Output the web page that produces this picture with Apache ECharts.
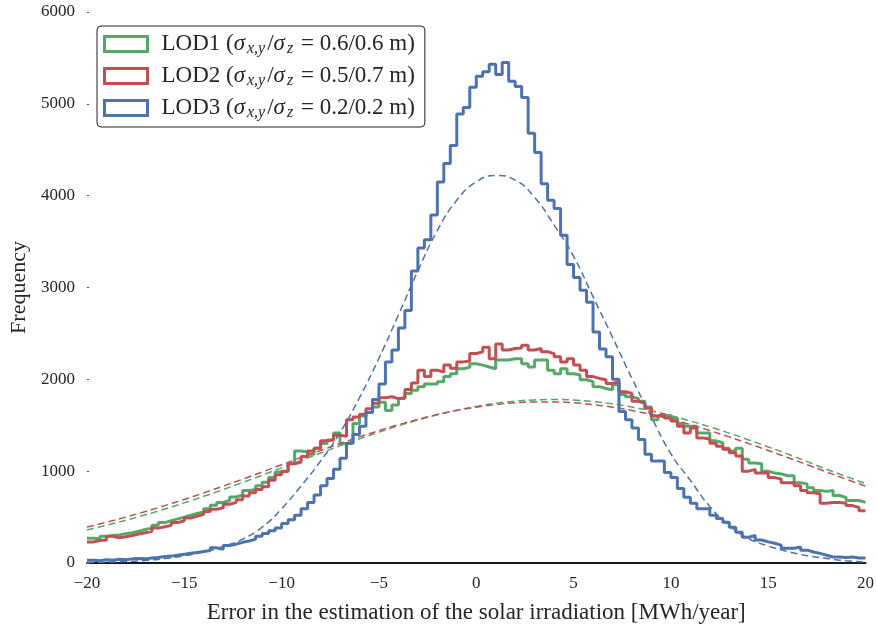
<!DOCTYPE html>
<html>
<head>
<meta charset="utf-8">
<script src="https://cdn.jsdelivr.net/npm/echarts@6/dist/echarts.min.js"></script>
<style>
  html, body { margin: 0; padding: 0; background: #fff; }
  #chart { width: 877px; height: 629px; }
</style>
</head>
<body>
<div id="chart"></div>
<script>
// histogram bins: 120 bins of 1/3 MWh/year from -20 to 20
var binStart = -20;
var binWidth = 1 / 3;

var lod1Counts = [
  270, 265, 290, 300, 305, 320, 330, 345, 365, 380, 410, 440, 460, 480, 500,
  520, 540, 555, 590, 630, 660, 680, 720, 740, 790, 800, 840, 880, 930, 990,
  1000, 1080, 1220, 1210, 1185, 1250, 1300, 1340, 1415, 1300, 1310, 1520, 1600, 1640, 1700,
  1750, 1660, 1720, 1790, 1845, 1880, 1920, 1950, 1950, 1975, 2030, 2060, 2115, 2130, 2170,
  2155, 2135, 2115, 2210, 2210, 2225, 2225, 2170, 2135, 2210, 2210, 2100, 2060, 2115, 2060,
  2050, 1995, 1975, 1920, 1900, 1885, 1940, 1835, 1810, 1790, 1760, 1700, 1560, 1600, 1610,
  1580, 1520, 1490, 1490, 1415, 1415, 1330, 1310, 1250, 1220, 1250, 1130, 1090, 1080, 1000,
  980, 970, 950, 950, 875, 860, 820, 790, 780, 790, 735, 715, 680, 680, 660
];
var lod2Counts = [
  230, 245, 250, 290, 275, 285, 300, 315, 330, 345, 380, 395, 410, 440, 460,
  490, 510, 530, 560, 585, 600, 640, 660, 690, 730, 765, 800, 830, 900, 960,
  1000, 1080, 1100, 1160, 1220, 1250, 1330, 1340, 1390, 1380, 1560, 1590, 1620, 1680, 1740,
  1800, 1810, 1790, 1800, 1890, 1960, 2100, 2030, 2100, 2080, 2155, 2120, 2190, 2200, 2280,
  2300, 2350, 2225, 2385, 2320, 2335, 2340, 2370, 2320, 2335, 2300, 2280, 2245, 2190, 2225,
  2155, 2100, 2030, 2010, 1995, 1955, 1975, 1865, 1845, 1760, 1740, 1685, 1600, 1620, 1580,
  1545, 1490, 1415, 1470, 1360, 1350, 1305, 1270, 1240, 1200, 1165, 1000, 1020, 980, 980,
  930, 915, 875, 875, 840, 790, 765, 755, 650, 660, 660, 650, 625, 605, 570
];
var lod3Counts = [
  30, 25, 35, 30, 40, 35, 45, 50, 45, 55, 60, 70, 75, 85, 95,
  105, 115, 125, 135, 165, 150, 190, 205, 225, 240, 260, 290, 320, 350, 380,
  430, 470, 520, 590, 660, 740, 840, 920, 1020, 1140, 1305, 1400, 1490, 1640, 1780,
  1950, 2190, 2320, 2560, 2750, 3180, 3430, 3520, 3790, 4150, 4350, 4545, 4890, 4960, 5180,
  5300, 5350, 5430, 5320, 5450, 5245, 5190, 5070, 4680, 4470, 4130, 3950, 3860, 3570, 3250,
  3110, 2970, 2840, 2515, 2330, 2245, 2000, 1650, 1560, 1470, 1345, 1185, 1110, 1110, 985,
  930, 810, 715, 650, 590, 590, 520, 485, 445, 390, 335, 280, 300, 250, 230,
  215, 195, 160, 160, 175, 140, 120, 105, 85, 65, 65, 60, 65, 55, 55
];

// fitted curves (dashed), read at every 1 MWh/year from -20 to 20
var fitStart = -20;
var fitStep = 1;
var lod1Fit = [360, 411, 465, 525, 588, 655, 726, 800, 877, 956, 1036, 1117, 1197, 1276, 1352, 1425, 1494, 1557, 1614, 1664,
  1705, 1739, 1762, 1776, 1780, 1774, 1759, 1733, 1699, 1656, 1605, 1547, 1482, 1414, 1340, 1264, 1187, 1104, 1021, 942, 865];
var lod2Fit = [392, 443, 500, 560, 625, 692, 764, 837, 913, 991, 1070, 1148, 1225, 1300, 1373, 1442, 1506, 1564, 1617, 1661,
  1697, 1725, 1745, 1754, 1754, 1745, 1725, 1697, 1661, 1617, 1564, 1506, 1442, 1373, 1300, 1225, 1148, 1070, 991, 913, 837];
var lod3Fit = [5, 9, 16, 28, 48, 78, 120, 180, 260, 390, 590, 840, 1110, 1420, 1800, 2230, 2700, 3180, 3620, 3950,
  4150, 4220, 4170, 3980, 3680, 3340, 2900, 2460, 2010, 1590, 1190, 900, 615, 410, 265, 185, 125, 80, 50, 25, 10];

var seriesNames = ['LOD1', 'LOD2', 'LOD3'];
var sigmaLabels = ['0.6/0.6', '0.5/0.7', '0.2/0.2'];
var colors = ['#55A868', '#C44E52', '#4C72B0'];

function stepPoints(counts) {
  var pts = counts.map(function (c, i) { return [binStart + i * binWidth, c]; });
  pts.push([binStart + counts.length * binWidth, counts[counts.length - 1]]);
  return pts;
}
function fitPoints(vals) {
  return vals.map(function (v, i) { return [fitStart + i * fitStep, v]; });
}

var allCounts = [lod1Counts, lod2Counts, lod3Counts];
var allFits = [lod1Fit, lod2Fit, lod3Fit];

var series = [];
seriesNames.forEach(function (name, k) {
  series.push({
    name: name,
    type: 'line',
    step: 'end',
    showSymbol: false,
    symbol: 'none',
    data: stepPoints(allCounts[k]),
    lineStyle: { color: colors[k], width: 3 },
    itemStyle: { color: colors[k] },
    z: 2 + k * 2
  });
  series.push({
    name: name + ' fit',
    type: 'line',
    smooth: true,
    showSymbol: false,
    symbol: 'none',
    data: fitPoints(allFits[k]),
    lineStyle: { color: colors[k], width: 1.5, type: [7, 4] },
    itemStyle: { color: colors[k] },
    z: 3 + k * 2
  });
});

var serif = 'Liberation Serif';
var textColor = '#262626';

var chart = echarts.init(document.getElementById('chart'));
chart.setOption({
  animation: false,
  backgroundColor: '#fff',
  grid: { left: 85, right: 10, top: 12, bottom: 61 },
  legend: {
    orient: 'vertical',
    left: 97,
    top: 26,
    padding: [5, 10, 6, 6],
    itemGap: 6,
    itemWidth: 43,
    itemHeight: 15,
    borderColor: '#222',
    borderWidth: 1,
    borderRadius: 4,
    backgroundColor: '#fff',
    data: seriesNames.map(function (n, k) {
      return { name: n, icon: 'rect', itemStyle: { color: '#fff', borderColor: colors[k], borderWidth: 3 } };
    }),
    formatter: function (name) {
      var k = seriesNames.indexOf(name);
      return '{n|' + name + ' (}{s|σ}{b|x,y}{n|/}{s|σ}{b|z}{n| = ' + sigmaLabels[k] + ' m)}';
    },
    textStyle: {
      padding: [0, 0, 0, 9],
      rich: {
        n: { fontFamily: serif, fontSize: 23, color: textColor, lineHeight: 23 },
        s: { fontFamily: serif, fontSize: 23, fontStyle: 'italic', color: textColor, lineHeight: 23, padding: [0, 1, 0, 0] },
        b: { fontFamily: serif, fontSize: 16, fontStyle: 'italic', color: textColor, padding: [10, 2, 0, 1], lineHeight: 23 }
      }
    }
  },
  xAxis: {
    type: 'value',
    min: -20,
    max: 20,
    interval: 5,
    name: 'Error in the estimation of the solar irradiation [MWh/year]',
    nameLocation: 'middle',
    nameGap: 38,
    nameTextStyle: { fontFamily: serif, fontSize: 23, color: textColor },
    axisLine: { onZero: false, lineStyle: { color: '#1a1a1a', width: 2 } },
    axisTick: { show: false },
    splitLine: { show: false },
    axisLabel: {
      fontFamily: serif, fontSize: 17, color: textColor, margin: 12,
      formatter: function (v) { return v < 0 ? '\u2212' + Math.abs(v) : String(v); }
    }
  },
  yAxis: {
    type: 'value',
    min: 0,
    max: 6000,
    interval: 1000,
    name: 'Frequency',
    nameLocation: 'middle',
    nameGap: 57,
    nameTextStyle: { fontFamily: serif, fontSize: 22, color: textColor },
    axisLine: { show: false, onZero: false },
    axisTick: { show: true, inside: true, length: 2, lineStyle: { color: '#555', width: 1 } },
    splitLine: { show: false },
    axisLabel: {
      fontFamily: serif, fontSize: 17, color: textColor, margin: 12,
      formatter: function (v) { return String(v); }
    }
  },
  series: series
});
</script>
</body>
</html>
